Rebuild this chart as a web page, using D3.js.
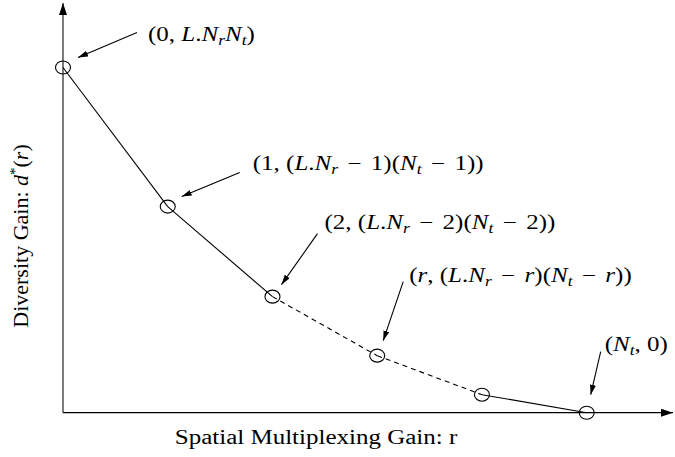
<!DOCTYPE html>
<html>
<head>
<meta charset="utf-8">
<script src="https://cdn.jsdelivr.net/npm/d3@7"></script>
<style>
  body { margin: 0; background: #fff; }
  text { font-family: "Liberation Serif", "Times New Roman", serif; fill: #000; }
</style>
</head>
<body>
<svg id="chart" width="675" height="457"></svg>
<script>
//
// Data
//

// multiplexing gain r (0 .. Nt)
var rVals = [0, 1, 2, 3, 4, 5]
// diversity gain d*(r)
var dVals = [34.5, 20.6, 11.6, 5.7, 1.8, 0]
// style of the segment that leaves each point
var segDash = [false, false, true, true, false]
// labels (index of point they point at)
var labelIdx = [0, 1, 2, 3, 5]
var labelText = [
  '(0, L.N_rN_t)',
  '(1, (L.N_r - 1)(N_t - 1))',
  '(2, (L.N_r - 2)(N_t - 2))',
  '(r, (L.N_r - r)(N_t - r))',
  '(N_t, 0)'
]
var xTitle = 'Spatial Multiplexing Gain: r'

//
// Layout
//

var width = 675, height = 457
var x0 = 63, yBase = 412.7
var fontSize = 20
// the source figure is stretched sideways, so is its text
var sx = 1.25

// label placement, offsets from the point: [tip dx, tip dy, tail dx, tail dy, text dx, text dy]
var annOff = [
  [15, -10, 74, -35, 85, -27],
  [14, -10, 72, -34, 85, -37],
  [9, -12, 45, -63, 52, -68],
  [6, -15, 26, -74, 32, -74],
  [4, -18, 14, -61, 18, -62]
]

var svg = d3.select('#chart')

var x = d3.scaleLinear().domain([0, 5]).range([x0, 586.7])
var y = d3.scaleLinear().domain([0, 34.5]).range([yBase, 67.5])

var defs = svg.append('defs')
defs.append('marker')
  .attr('id', 'head')
  .attr('viewBox', '0 0 10 6')
  .attr('refX', 10).attr('refY', 3)
  .attr('markerWidth', 10).attr('markerHeight', 6)
  .attr('markerUnits', 'userSpaceOnUse')
  .attr('orient', 'auto')
  .append('path').attr('d', 'M0,0L10,3L0,6Z').attr('fill', '#000')
defs.append('marker')
  .attr('id', 'axhead')
  .attr('viewBox', '0 0 12 8')
  .attr('refX', 12).attr('refY', 4)
  .attr('markerWidth', 12).attr('markerHeight', 8)
  .attr('markerUnits', 'userSpaceOnUse')
  .attr('orient', 'auto')
  .append('path').attr('d', 'M0,0L12,4L0,8Z').attr('fill', '#000')

//
// Axes
//

svg.append('line')
  .attr('x1', x(0)).attr('y1', y(0))
  .attr('x2', width - 2).attr('y2', y(0))
  .attr('stroke', '#000').attr('stroke-width', 1.3)
  .attr('marker-end', 'url(#axhead)')
svg.append('line')
  .attr('x1', x(0)).attr('y1', y(0))
  .attr('x2', x(0)).attr('y2', 3)
  .attr('stroke', '#333').attr('stroke-width', 1.3)
  .attr('marker-end', 'url(#axhead)')

svg.append('text')
  .attr('transform', 'translate(' + ((172 + 460) / 2) + ',444) scale(' + sx + ',1)')
  .attr('text-anchor', 'middle')
  .attr('font-size', fontSize)
  .text(xTitle)

var yt = svg.append('text')
  .attr('transform', 'translate(28,236) rotate(-90)')
  .attr('text-anchor', 'middle')
  .attr('font-size', 22)
yt.append('tspan').text('Diversity Gain: ')
yt.append('tspan').attr('font-style', 'italic').text('d')
yt.append('tspan').attr('font-size', 15).attr('dy', -8).text('*')
yt.append('tspan').attr('dy', 8).text('(')
yt.append('tspan').attr('font-style', 'italic').text('r')
yt.append('tspan').text(')')

//
// Curve
//

var segs = d3.range(rVals.length - 1).map(function(i) {
  return { a: i, b: i + 1, dash: segDash[i] }
})

svg.selectAll('.seg').data(segs).enter().append('line')
  .attr('class', 'seg')
  .attr('x1', function(d) { return x(rVals[d.a]) })
  .attr('y1', function(d) { return y(dVals[d.a]) })
  .attr('x2', function(d) { return x(rVals[d.b]) })
  .attr('y2', function(d) { return y(dVals[d.b]) })
  .attr('stroke', '#000').attr('stroke-width', 1.1)
  .attr('stroke-dasharray', function(d) { return d.dash ? '5,4' : null })

svg.selectAll('.pt').data(rVals).enter().append('ellipse')
  .attr('class', 'pt')
  .attr('cx', function(d) { return x(d) })
  .attr('cy', function(d, i) { return y(dVals[i]) })
  .attr('rx', 7.5).attr('ry', 6.5)
  .attr('fill', 'none').attr('stroke', '#000').attr('stroke-width', 1.1)

//
// Annotations
//

// write a small math string: letters italic, _c subscript, - minus (with math spacing)
function mathText(sel, str) {
  var i = 0, shift = 0, gap = 0
  while (i < str.length) {
    var c = str[i]
    var ts = sel.append('tspan')
    if (shift) { ts.attr('dy', shift); shift = 0 }
    if (gap) { ts.attr('dx', gap); gap = 0 }
    if (c === '_') {
      ts.attr('font-style', 'italic')
        .attr('font-size', fontSize * 0.7).attr('dy', 4).text(str[i + 1])
      shift = -4
      i += 2
      continue
    }
    if (c === '-') {
      ts.attr('dx', 2.5).text('\u2212')
      gap = 2.5
    } else if (c === ' ') {
      ts.text('\u00a0')
    } else if (/[A-Za-z]/.test(c)) {
      ts.attr('font-style', 'italic').text(c)
    } else {
      ts.text(c)
    }
    i++
  }
}

labelIdx.forEach(function(p, k) {
  var px = x(rVals[p]), py = y(dVals[p]), o = annOff[k]
  svg.append('line')
    .attr('x1', px + o[2]).attr('y1', py + o[3])
    .attr('x2', px + o[0]).attr('y2', py + o[1])
    .attr('stroke', '#000').attr('stroke-width', 1.1)
    .attr('marker-end', 'url(#head)')
  var t = svg.append('text')
    .attr('transform', 'translate(' + (px + o[4]) + ',' + (py + o[5]) + ') scale(' + sx + ',1)')
    .attr('font-size', fontSize)
    .attr('xml:space', 'preserve')
  mathText(t, labelText[k])
})
</script>
</body>
</html>
